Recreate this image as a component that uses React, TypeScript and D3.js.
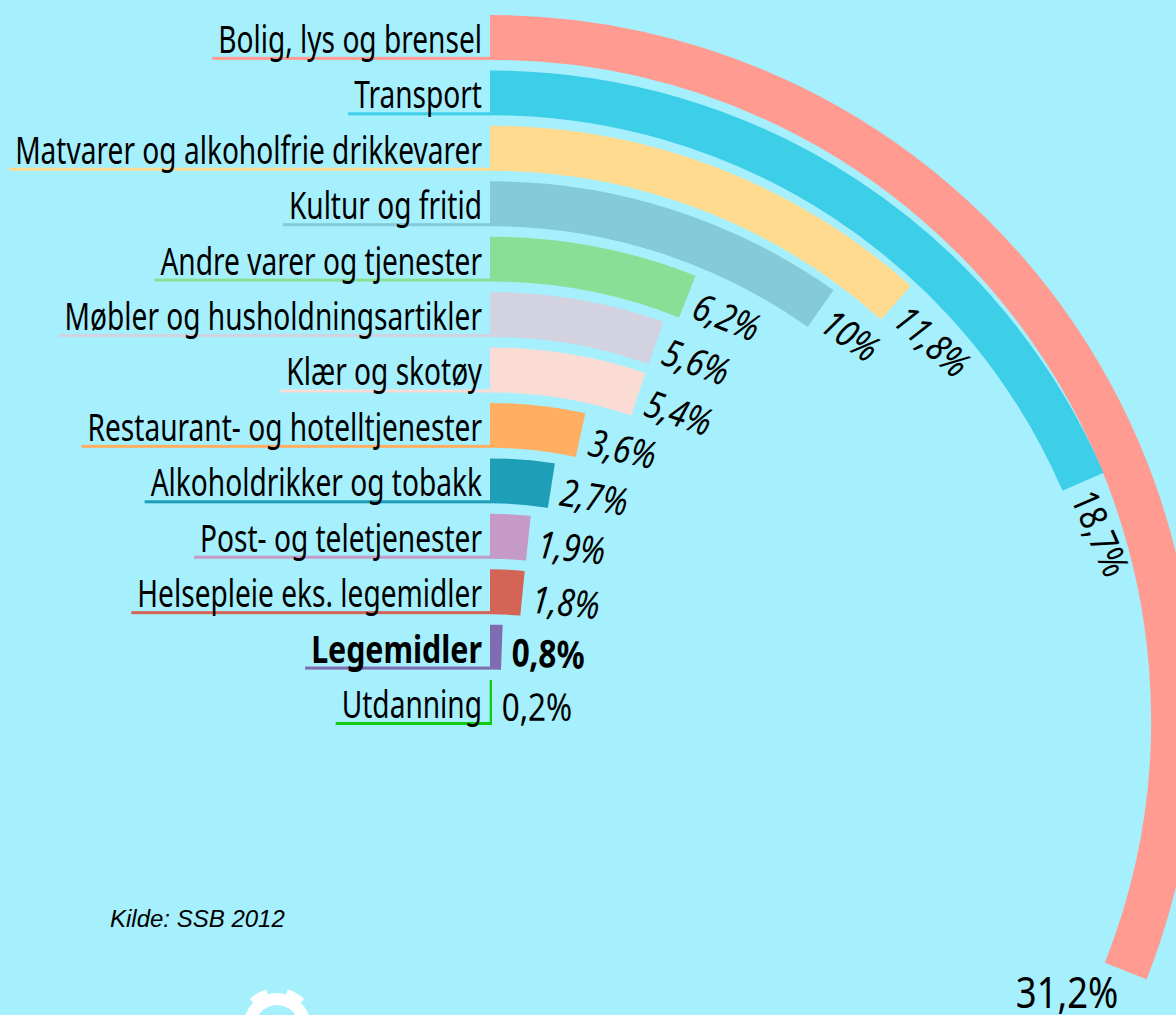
import React, { useEffect, useRef } from "react";
import * as d3 from "d3";

const categories = [
  "Bolig, lys og brensel",
  "Transport",
  "Matvarer og alkoholfrie drikkevarer",
  "Kultur og fritid",
  "Andre varer og tjenester",
  "Møbler og husholdningsartikler",
  "Klær og skotøy",
  "Restaurant- og hotelltjenester",
  "Alkoholdrikker og tobakk",
  "Post- og teletjenester",
  "Helsepleie eks. legemidler",
  "Legemidler",
  "Utdanning",
];

const values = [31.2, 18.7, 11.8, 10, 6.2, 5.6, 5.4, 3.6, 2.7, 1.9, 1.8, 0.8, 0.2];

const colors = [
  "#ff9b90", "#3dcee8", "#ffdb8f", "#84cad7", "#88e096", "#d2d2e0", "#fbdcd4",
  "#ffae62", "#1e9eb7", "#c59ac7", "#d46455", "#806cb0", "#11cc11",
];

const highlighted = "Legemidler";
const source = "Kilde: SSB 2012";

const width = 1176;
const height = 1015;
const bg = "#a6effd";
const cx = 491;
const deg = Math.PI / 180;
const font = "'Noto Sans', 'DejaVu Sans', sans-serif";
const fontSize = 38;

// rows of the radial bars
const y = d3.scaleBand().domain(categories).range([15, 725]).paddingInner(0.19);
// each ring is drawn around a slightly lower centre than the one outside it
const centerY = d3.scaleLinear().domain([0, categories.length - 1]).range([720, 936]);
const angle = d3.scaleLinear().domain([0, d3.max(values)]).range([-0.8 * deg, 111.5 * deg]);

const fmt = (v) => String(v).replace(".", ",") + "%";

export default function App() {
  const ref = useRef(null);

  useEffect(() => {
    const svg = d3.select(ref.current);
    svg.selectAll("*").remove();

    svg.append("rect").attr("width", width).attr("height", height).attr("fill", bg);

    // the original uses a condensed face: squeeze the installed one to the same width
    const probe = svg.append("text")
      .attr("font-family", font)
      .attr("font-size", fontSize)
      .text(categories[2]);
    const k = 467 / probe.node().getComputedTextLength();
    probe.remove();
    const kv = k * 1.12;

    const arc = d3.arc();
    const bars = svg.append("g");
    const lines = svg.append("g");
    const texts = svg.append("g");

    categories.forEach((c, i) => {
      const v = values[i];
      const color = colors[i];
      const top = y(c);
      const bottom = top + y.bandwidth();
      const cy = centerY(i);
      const outer = cy - top;
      const inner = cy - bottom;
      const a = angle(v);
      const bold = c === highlighted;

      bars.append("path")
        .attr("transform", `translate(${cx},${cy})`)
        .attr("d", arc({ innerRadius: inner + 1, outerRadius: outer - 1, startAngle: 0, endAngle: a }))
        .attr("fill", color)
        .attr("stroke", color)
        .attr("stroke-width", 2);

      const label = texts.append("text")
        .attr("transform", `translate(${cx - 9},${bottom - 7}) scale(${bold ? k * 1.08 : k},1)`)
        .attr("text-anchor", "end")
        .attr("font-family", font)
        .attr("font-size", fontSize)
        .attr("font-weight", bold ? "bold" : "normal")
        .attr("fill", "#000")
        .text(c);
      const w = label.node().getComputedTextLength() * (bold ? k * 1.08 : k);
      const x0 = cx - 9 - w - 6;
      lines.append("rect")
        .attr("x", x0)
        .attr("y", bottom - 3)
        .attr("width", cx - x0)
        .attr("height", 3)
        .attr("fill", color);

      const rot = a / deg;
      const mid = (outer + inner) / 2;
      if (rot > 100) {
        const ex = cx + mid * Math.sin(a);
        const ey = cy - mid * Math.cos(a);
        texts.append("text")
          .attr("transform", `translate(${ex - 59},${ey + 38}) scale(${kv},1)`)
          .attr("text-anchor", "middle")
          .attr("font-family", font)
          .attr("font-size", 44)
          .text(fmt(v));
      } else {
        texts.append("text")
          .attr("transform", `translate(${cx},${cy}) rotate(${rot}) translate(11,${-mid + 5}) scale(${kv},1)`)
          .attr("dy", "0.35em")
          .attr("font-family", font)
          .attr("font-size", fontSize)
          .attr("font-style", rot > 3 && rot < 50 ? "italic" : "normal")
          .attr("font-weight", bold ? "bold" : "normal")
          .text(fmt(v));
      }
    });

    svg.append("text")
      .attr("x", 110)
      .attr("y", 927)
      .attr("font-family", "'Liberation Sans', Arial, sans-serif")
      .attr("font-style", "italic")
      .attr("font-size", 24)
      .text(source);

    // gear icon, mostly below the page edge
    const gear = svg.append("g").attr("transform", "translate(277,1027)").attr("fill", "#fff");
    gear.append("path").attr("d", arc({ innerRadius: 22, outerRadius: 34, startAngle: 0, endAngle: 2 * Math.PI }));
    d3.range(6).forEach((j) => {
      const c = (30 + 60 * j) * deg;
      gear.append("path").attr("d", arc({ innerRadius: 30, outerRadius: 39, startAngle: c - 14 * deg, endAngle: c + 14 * deg }));
    });
  }, []);

  return (
    <svg
      ref={ref}
      width={width}
      height={height}
      style={{ position: "absolute", left: 0, top: 0 }}
    ></svg>
  );
}
